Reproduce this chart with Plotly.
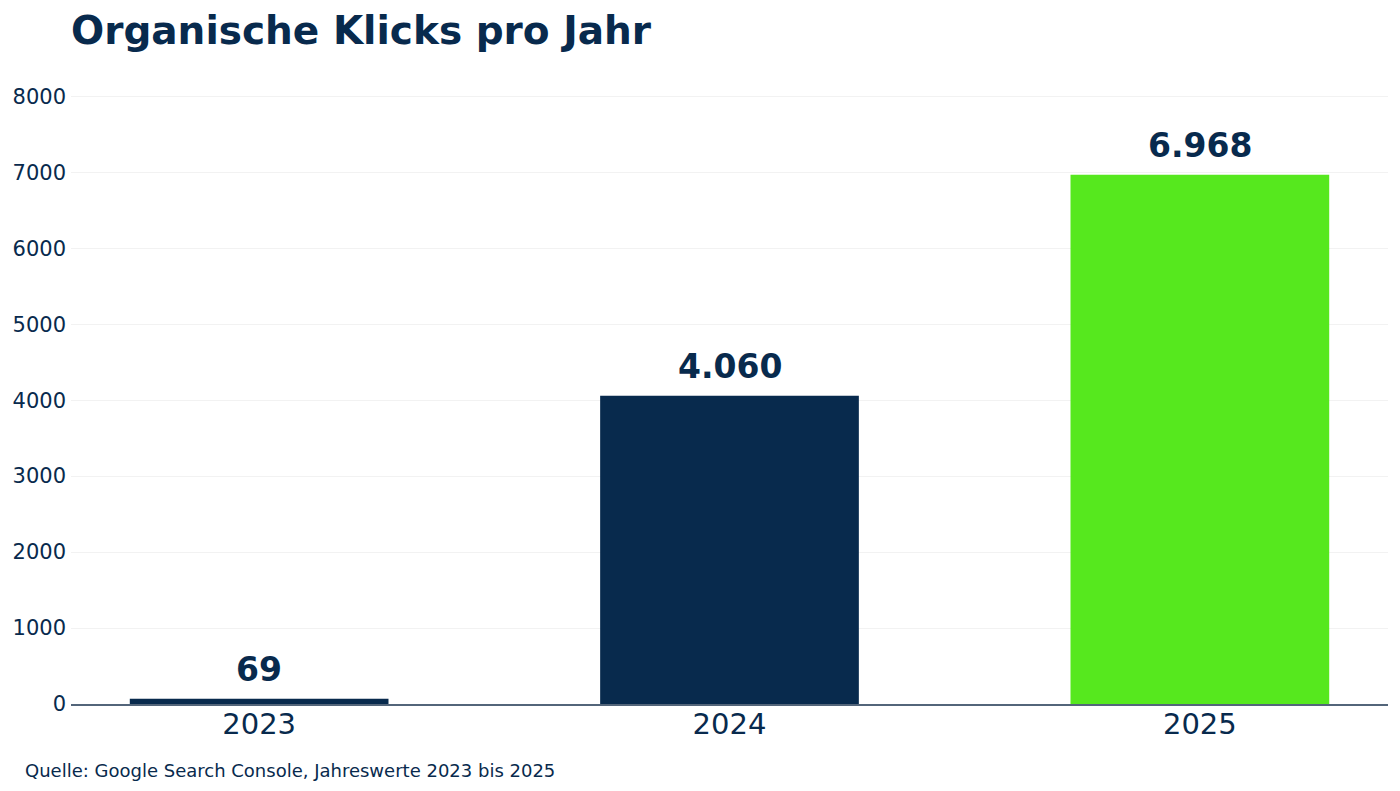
import plotly.graph_objects as go

# data
years = ['2023', '2024', '2025']
clicks = [69, 4060, 6968]
labels = ['69', '4.060', '6.968']
colors = ['#082a4d', '#082a4d', '#56e81e']

navy = '#082a4d'

fig = go.Figure(
    go.Bar(
        x=years,
        y=clicks,
        marker=dict(color=colors, line=dict(width=0)),
        width=0.55,
        hoverinfo='x+y',
    )
)

# value labels above the bars (category index, numeric-looking strings confuse annotations)
for i, (val, lab) in enumerate(zip(clicks, labels)):
    fig.add_annotation(
        x=i, y=val, text=f'<b>{lab}</b>',
        showarrow=False, yanchor='middle', yshift=29,
        font=dict(family='DejaVu Sans', size=33, color=navy),
    )

# page has an 8px body margin, so margins are shifted to compensate
fig.update_layout(
    width=1400, height=791,
    paper_bgcolor='white', plot_bgcolor='white',
    font=dict(family='DejaVu Sans', color=navy),
    margin=dict(l=63, r=20, t=58, b=95),
    showlegend=False,
    title=dict(
        text='<b>Organische Klicks pro Jahr</b>',
        font=dict(family='DejaVu Sans', size=39, color=navy),
        x=63/1400, xanchor='left', xref='container',
        y=1-22/791, yanchor='middle', yref='container',
    ),
)

fig.update_xaxes(
    type='category', range=[-0.4, 2.4],
    showgrid=False, showline=True, linecolor='#53657a', linewidth=1.5,
    tickfont=dict(size=29, color=navy), ticks='', ticklabelstandoff=-7,
    automargin=False,
)
fig.update_yaxes(
    range=[0, 8400], dtick=1000,
    showgrid=True, gridcolor='#f2f2f2', gridwidth=1,
    zeroline=False, tickfont=dict(size=21, color=navy), ticks='',
    ticklabelstandoff=4, automargin=False,
)

fig.add_annotation(
    text='Quelle: Google Search Console, Jahreswerte 2023 bis 2025',
    xref='paper', yref='paper',
    x=(23-71)/1317, y=(704-770)/638,
    xanchor='left', yanchor='middle', showarrow=False,
    font=dict(family='DejaVu Sans', size=18, color=navy),
)

fig.write_html('out.html')
